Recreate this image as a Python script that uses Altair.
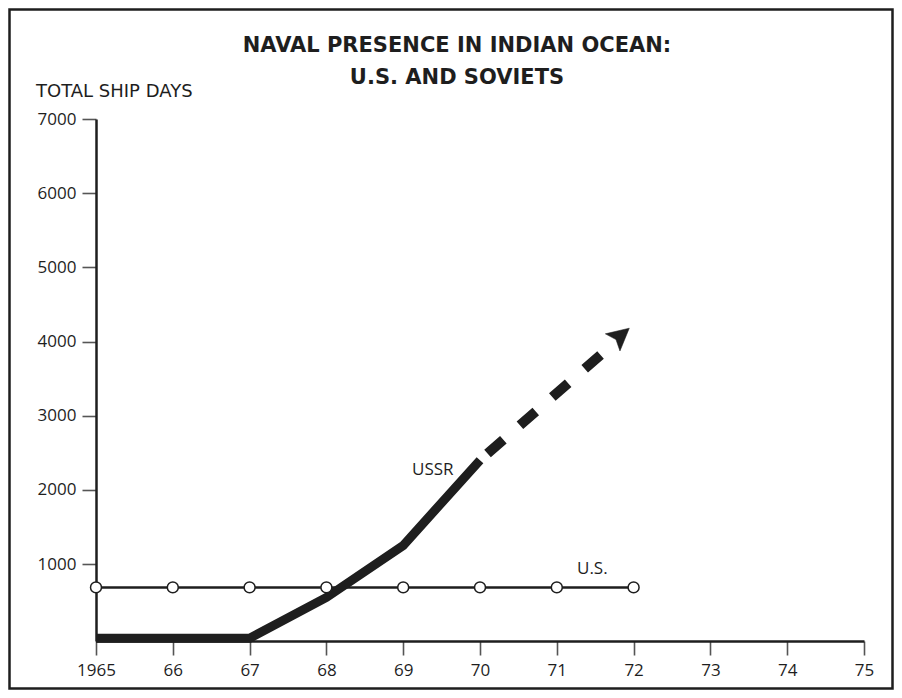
import altair as alt
import pandas as pd

# ---- data ----
us_years = [1965, 1966, 1967, 1968, 1969, 1970, 1971, 1972]
us_values = [685, 685, 685, 685, 685, 685, 685, 685]

ussr_years = [1965, 1966, 1967, 1968, 1969, 1970]
ussr_values = [0, 0, 0, 550, 1250, 2400]

proj_years = [1970, 1971.77]
proj_values = [2400, 4000]

arrow_year = [1971.82]
arrow_value = [4070]

x_ticks = [1965, 1966, 1967, 1968, 1969, 1970, 1971, 1972, 1973, 1974, 1975]
y_ticks = [1000, 2000, 3000, 4000, 5000, 6000, 7000]

FONT = "Open Sans"
WIDE = "DejaVu Sans"
INK = "#1e1e1e"

us_df = pd.DataFrame({"year": us_years, "days": us_values})
ussr_df = pd.DataFrame({"year": ussr_years, "days": ussr_values})
proj_df = pd.DataFrame({"year": proj_years, "days": proj_values})
arrow_df = pd.DataFrame({"year": arrow_year, "days": arrow_value})
one = pd.DataFrame({"a": [0]})

xscale = alt.Scale(domain=[1965, 1975], nice=False, zero=False)
yscale = alt.Scale(domain=[-38, 7000], nice=False, zero=False)

x_axis = alt.Axis(
    values=x_ticks,
    labelExpr="datum.value == 1965 ? '1965' : format(datum.value % 100, '02d')",
    title=None, grid=False, domainColor=INK, domainWidth=2.5,
    tickColor="#555555", tickWidth=1.6, tickSize=14, labelFlush=False,
    labelFont=FONT, labelFontSize=17, labelColor=INK, labelPadding=7,
)
y_axis = alt.Axis(
    values=y_ticks, format="d", title=None, grid=False,
    domainColor=INK, domainWidth=2.5,
    tickColor="#555555", tickWidth=1.6, tickSize=14, labelFlush=False,
    labelFont=FONT, labelFontSize=17, labelColor=INK, labelPadding=6,
)

X = alt.X("year:Q", scale=xscale, axis=x_axis)
Y = alt.Y("days:Q", scale=yscale, axis=y_axis)

us_line = alt.Chart(us_df).mark_line(color=INK, strokeWidth=2.5).encode(x=X, y=Y)
us_pts = alt.Chart(us_df).mark_point(
    shape="circle", filled=True, fill="white", stroke=INK, strokeWidth=1.5,
    size=120, opacity=1
).encode(x=X, y=Y)

ussr_line = alt.Chart(ussr_df).mark_line(
    color=INK, strokeWidth=9, strokeCap="butt", strokeJoin="miter"
).encode(x=X, y=Y)

proj_line = alt.Chart(proj_df).mark_line(
    color=INK, strokeWidth=10, strokeCap="butt",
    strokeDash=[21, 22], strokeDashOffset=33
).encode(x=X, y=Y)

arrow = alt.Chart(arrow_df).mark_point(
    shape="M0,-1 L0.9,0.75 L0,0.4 L-0.9,0.75 Z",
    filled=True, fill=INK, stroke=INK, strokeWidth=0.5, opacity=1,
    size=625, angle=49.5
).encode(x=X, y=Y)

def label(text, x, y, size=17, weight="normal", align="left", font=FONT):
    return alt.Chart(one).mark_text(
        text=text, font=font, fontSize=size, fontWeight=weight,
        color=INK, align=align, baseline="alphabetic"
    ).encode(x=alt.value(x), y=alt.value(y))

title1 = label("NAVAL PRESENCE IN INDIAN OCEAN:", 361, -67, size=21, weight="bold", align="center", font=WIDE)
title2 = label("U.S. AND SOVIETS", 361, -35, size=21, weight="bold", align="center", font=WIDE)
ylab = label("TOTAL SHIP DAYS", -60, -22, size=18, font=WIDE)
ussr_lab = label("USSR", 316, 356)
us_lab = label("U.S.", 481, 455)

border = alt.Chart(one).mark_rect(
    fill=None, stroke=INK, strokeWidth=2.5
).encode(x=alt.value(-86.5), x2=alt.value(796.5), y=alt.value(-109.5), y2=alt.value(569.5))

chart = alt.layer(
    border, us_line, ussr_line, proj_line, arrow, us_pts,
    title1, title2, ylab, ussr_lab, us_lab
).properties(
    width=768, height=522,
    padding={"left": 88, "top": 111, "right": 30, "bottom": 49},
    autosize=alt.AutoSizeParams(type="none"),
    background="white",
).configure_view(stroke=None)

chart.save("out.html", embed_options={"renderer": "svg", "actions": False})
